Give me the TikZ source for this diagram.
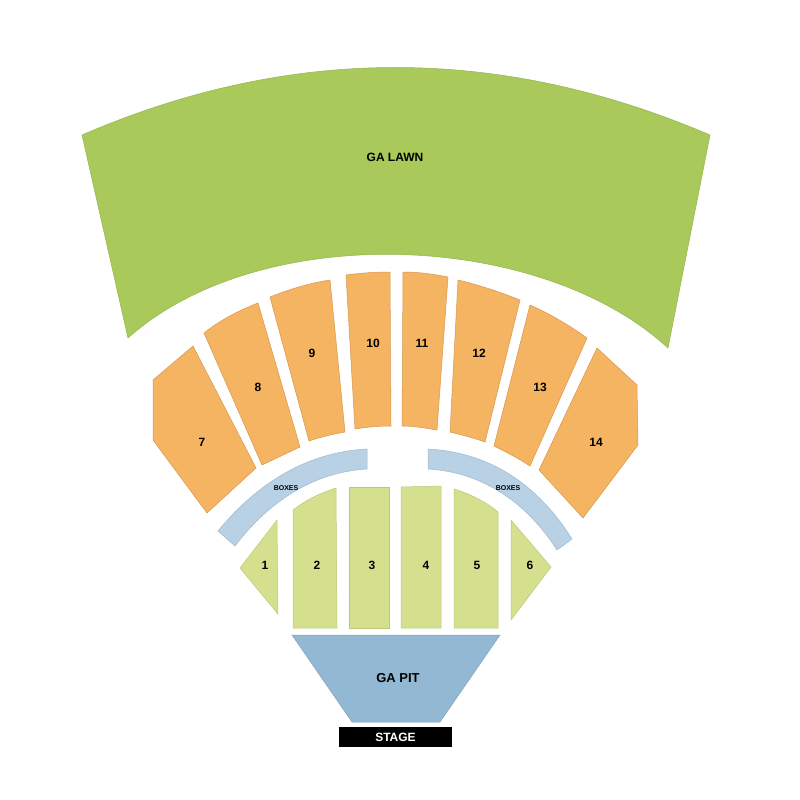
\documentclass[tikz,border=0pt]{standalone}
\usepackage{fontspec}
\setmainfont{Liberation Sans}
\begin{document}
\begin{tikzpicture}[x=1pt,y=-1pt,
  lawn/.style={fill={rgb,255:red,169;green,201;blue,90},draw={rgb,255:red,150;green,180;blue,80},line width=0.5pt},
  orange/.style={fill={rgb,255:red,245;green,180;blue,97},draw={rgb,255:red,215;green,150;blue,80},line width=0.5pt},
  lgreen/.style={fill={rgb,255:red,213;green,224;blue,143},draw={rgb,255:red,190;green,200;blue,120},line width=0.5pt},
  box/.style={fill={rgb,255:red,185;green,209;blue,228},draw={rgb,255:red,160;green,185;blue,205},line width=0.5pt},
  pit/.style={fill={rgb,255:red,147;green,184;blue,211},draw={rgb,255:red,130;green,165;blue,190},line width=0.5pt},
  lbl/.style={font=\bfseries\fontsize{12}{14}\selectfont},
  slbl/.style={font=\bfseries\fontsize{7}{8}\selectfont}]
\useasboundingbox (0,0) rectangle (800,800);
\fill[white] (0,0) rectangle (800,800);
% lawn
\draw[lawn] (82,135) .. controls (290,45) and (500,45) .. (710,135) -- (668,348)
  .. controls (540,230) and (260,220) .. (128,338) -- cycle;
\node[lbl] (lawn) at (395,157) {GA LAWN};
% orange sections
\draw[orange] (153,380) -- (193,346) -- (256,468) -- (207,513) -- (153,440) -- cycle;
\draw[orange] (204,333) .. controls (220,320) and (240,310) .. (258,303) -- (300,447) -- (262,465) -- cycle;
\draw[orange] (270,297) .. controls (290,289) and (310,283) .. (330,280) -- (345,432) .. controls (333,434) and (321,437) .. (309,441) -- cycle;
\draw[orange] (346,275) .. controls (361,273) and (375,272) .. (390,272) -- (391,426) .. controls (379,426) and (367,427) .. (355,429) -- cycle;
\draw[orange] (403,272) .. controls (418,272) and (433,274) .. (448,277) -- (437,430) .. controls (425,428) and (414,426) .. (402,426) -- cycle;
\draw[orange] (458,280) .. controls (479,285) and (500,292) .. (520,300) -- (485,442) .. controls (474,438) and (462,435) .. (450,432) -- cycle;
\draw[orange] (530,305) .. controls (550,314) and (569,325) .. (587,338) -- (530,466) .. controls (518,458) and (506,452) .. (494,446) -- cycle;
\draw[orange] (597,348) -- (637,385) -- (638,445) -- (583,518) -- (539,470) -- cycle;
\node[lbl] (s7) at (202,442) {7};
\node[lbl] (s8) at (258,387) {8};
\node[lbl] (s9) at (312,353) {9};
\node[lbl] (s10) at (373,343) {10};
\node[lbl] (s11) at (422,343) {11};
\node[lbl] (s12) at (479,353) {12};
\node[lbl] (s13) at (540,387) {13};
\node[lbl] (s14) at (596,442) {14};
% boxes
\draw[box] (218,531) .. controls (260,480) and (310,452) .. (367,449) -- (367,469)
  .. controls (315,472) and (270,500) .. (235,546) -- cycle;
\draw[box] (428,449) .. controls (485,452) and (535,480) .. (572,539) -- (557,550)
  .. controls (525,500) and (480,472) .. (428,469) -- cycle;
\node[slbl] (b1) at (286,488) {BOXES};
\node[slbl] (b2) at (508,488) {BOXES};
% light green sections
\draw[lgreen] (240,568) -- (277,520) -- (278,614) -- cycle;
\draw[lgreen] (293,510) .. controls (306,500) and (320,493) .. (336,488) -- (337,628) -- (293,628) -- cycle;
\draw[lgreen] (349,487) -- (389,487) -- (389,628) -- (349,628) -- cycle;
\draw[lgreen] (401,487) -- (441,486) -- (441,628) -- (401,628) -- cycle;
\draw[lgreen] (454,489) .. controls (470,494) and (485,501) .. (498,512) -- (498,628) -- (454,628) -- cycle;
\draw[lgreen] (511,520) -- (551,567) -- (511,620) -- cycle;
\node[lbl] (s1) at (265,565) {1};
\node[lbl] (s2) at (317,565) {2};
\node[lbl] (s3) at (372,565) {3};
\node[lbl] (s4) at (426,565) {4};
\node[lbl] (s5) at (477,565) {5};
\node[lbl] (s6) at (530,565) {6};
% pit
\draw[pit] (292,635) -- (500,635) -- (440,722) -- (352,722) -- cycle;
\node[font=\bfseries\fontsize{13}{15}\selectfont] (pitl) at (398,678) {GA PIT};
% stage
\fill[black] (339,727) rectangle (452,747);
\node[lbl,text=white] (stage) at (395.5,737) {STAGE};
\end{tikzpicture}
\end{document}
